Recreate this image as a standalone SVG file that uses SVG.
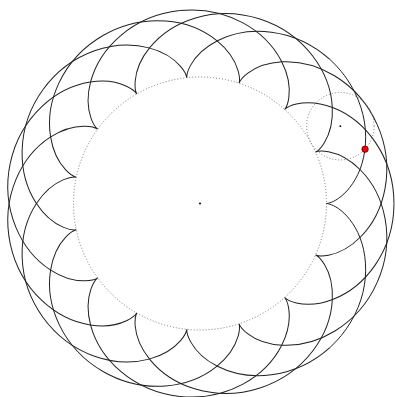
<svg xmlns="http://www.w3.org/2000/svg" xmlns:xlink="http://www.w3.org/1999/xlink" width="395" height="397" viewBox="0 0 395 397">
<style>
.curve{fill:none;stroke:#222;stroke-width:1}
.dot{fill:none;stroke:#777;stroke-width:1;stroke-dasharray:1 2}
</style>
<defs>
<path id="arc" class="curve" d="M129.79,-144.15 C146.42,-129.18 158.12,-109.00 162.95,-88.91 C167.77,-68.81 165.77,-49.13 160.10,-34.36 C154.43,-19.59 145.42,-9.87 138.36,-5.02 C131.30,-0.17 126.5,0 126.5,0 C126.5,0 131.30,0.17 138.36,5.02 C145.42,9.87 154.43,19.59 160.10,34.36 C165.77,49.13 167.77,68.81 162.95,88.91 C158.12,109.00 146.42,129.18 129.79,144.15"/>
</defs>
<rect width="395" height="397" fill="#fff"/>
<g id="fixed-circle">
<circle class="dot" cx="200" cy="203.5" r="126.5"/>
<circle cx="200" cy="203.5" r="1" fill="#000"/>
</g>
<g id="epicycloid" transform="translate(200,203.5)">
<use xlink:href="#arc" transform="rotate(0)"/>
<use xlink:href="#arc" transform="rotate(24)"/>
<use xlink:href="#arc" transform="rotate(48)"/>
<use xlink:href="#arc" transform="rotate(72)"/>
<use xlink:href="#arc" transform="rotate(96)"/>
<use xlink:href="#arc" transform="rotate(120)"/>
<use xlink:href="#arc" transform="rotate(144)"/>
<use xlink:href="#arc" transform="rotate(168)"/>
<use xlink:href="#arc" transform="rotate(192)"/>
<use xlink:href="#arc" transform="rotate(216)"/>
<use xlink:href="#arc" transform="rotate(240)"/>
<use xlink:href="#arc" transform="rotate(264)"/>
<use xlink:href="#arc" transform="rotate(288)"/>
<use xlink:href="#arc" transform="rotate(312)"/>
<use xlink:href="#arc" transform="rotate(336)"/>
</g>
<g id="rolling-circle">
<circle class="dot" cx="340.35" cy="126.19" r="33.73"/>
<circle cx="340.35" cy="126.19" r="0.9" fill="#000"/>
<circle cx="365.04" cy="149.17" r="3.2" fill="#e00" stroke="#600" stroke-width="0.8"/>
</g>
</svg>
